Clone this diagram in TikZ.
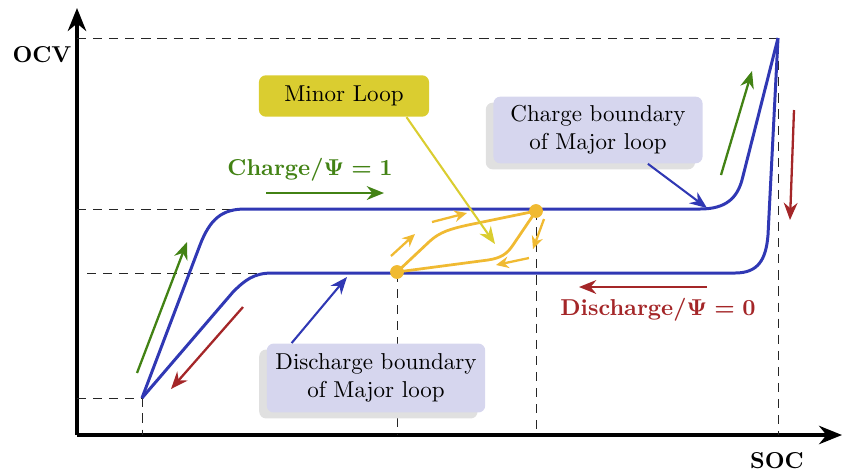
\documentclass[tikz,border=0pt]{standalone}
\usepackage{xcolor}
\usetikzlibrary{arrows.meta,shadows}
\definecolor{majorblue}{RGB}{48, 56, 180}
\definecolor{chargegreen}{RGB}{66, 130, 20}
\definecolor{dischargered}{RGB}{164, 38, 40}
\definecolor{minororange}{RGB}{240, 186, 50}
\definecolor{minorbox}{RGB}{218, 205, 48}
\definecolor{boxlavender}{RGB}{214, 214, 238}

\begin{document}
\begin{tikzpicture}[x=0.435pt, y=-0.435pt,
    hauptkurve/.style={majorblue, line width=1.3pt, line join=round},
    hilfslinie/.style={black!85, thin, dash pattern=on 4pt off 3pt},
    achse/.style={black, line width=1.4pt, -{Stealth[length=10pt, width=8pt]}},
    ladepfeil/.style={chargegreen, line width=1pt, -{Stealth[length=7.5pt, width=6pt]}},
    entladepfeil/.style={dischargered, line width=1pt, -{Stealth[length=7.5pt, width=6pt]}},
    minorpfeil/.style={minororange, line width=1pt, -{Stealth[length=5.5pt, width=5pt]}},
    zeiger/.style={majorblue, line width=0.9pt, -{Stealth[length=7.5pt, width=6pt]}},
    infobox/.style={rounded corners=3pt, fill=boxlavender, align=center, inner sep=3pt,
        drop shadow={shadow xshift=-3.3pt, shadow yshift=-2.6pt, fill=black!12, opacity=1}}]

    % Rahmen des Bildes
    \useasboundingbox (0,0) rectangle (842,473);

    % ==========================================
    % ACHSEN
    % ==========================================
    \coordinate (ursprung) at (77,435);
    \coordinate (yende) at (77,8);
    \coordinate (xende) at (842,435);
    \draw[achse] (ursprung) -- (yende);
    \draw[achse] (ursprung) -- (xende);
    \node[font=\bfseries] (ocv) at (42,55) {OCV};
    \node[font=\bfseries] (soc) at (777,461) {SOC};

    % ==========================================
    % HILFSLINIEN (gestrichelt)
    % ==========================================
    \draw[hilfslinie] (77,38) -- (778,38) -- (778,435);
    \draw[hilfslinie] (77,209) -- (235,209);
    \draw[hilfslinie] (87,273) -- (262,273);
    \draw[hilfslinie] (77,398) -- (142,398) -- (142,435);
    \draw[hilfslinie] (397,273) -- (397,435);
    \draw[hilfslinie] (536,211) -- (536,435);

    % ==========================================
    % MAJOR LOOP (Lade- und Entladekurve)
    % ==========================================
    % Ladekurve
    \draw[hauptkurve] (142,398) -- (200,245) .. controls (210,219) and (222,209) .. (245,209)
        -- (700,209) .. controls (726,209) and (737,198) .. (742,180) -- (778,38);
    % Entladekurve
    \draw[hauptkurve] (778,38) -- (768,235) .. controls (766,260) and (758,273) .. (735,273)
        -- (272,273) .. controls (254,273) and (245,280) .. (233,292) -- (142,398);

    % ==========================================
    % MINOR LOOP
    % ==========================================
    \draw[minororange, line width=1.2pt, line join=round]
        (397,272) -- (430,241) .. controls (440,232) and (450,229) .. (468,225) -- (536,211)
        -- (513,245) .. controls (507,254) and (501,258) .. (488,260) -- cycle;
    \filldraw[minororange] (397,272) circle (2.8pt);
    \filldraw[minororange] (536,211) circle (2.8pt);

    % kleine Pfeile entlang der Minor Loop
    \draw[minorpfeil] (391,256) -- (415,234);
    \draw[minorpfeil] (432,222) -- (467,213);
    \draw[minorpfeil] (544,219) -- (533,249);
    \draw[minorpfeil] (529,258) -- (496,265);

    % ==========================================
    % RICHTUNGSPFEILE
    % ==========================================
    \draw[ladepfeil] (137,373) -- (187,242);
    \draw[ladepfeil] (266,193) -- (384,193);
    \draw[ladepfeil] (721,175) -- (752,71);
    \draw[entladepfeil] (243,307) -- (171,389);
    \draw[entladepfeil] (707,287) -- (579,287);
    \draw[entladepfeil] (794,110) -- (790,220);

    \node[text=chargegreen, font=\bfseries\boldmath] (ladetext) at (310,170) {Charge/$\Psi = 1$};
    \node[text=dischargered, font=\bfseries\boldmath] (entladetext) at (658,310) {Discharge/$\Psi = 0$};

    % ==========================================
    % BESCHRIFTUNGEN MIT ZEIGERN
    % ==========================================
    \node[rounded corners=3pt, fill=minorbox, minimum width=74pt, minimum height=18pt] (minor) at (344,96) {Minor Loop};
    \coordinate (minorspitze) at (495,244);
    \draw[minorbox, line width=0.9pt, -{Stealth[length=7.5pt, width=6pt]}] ([xshift=-10pt]minor.south east) -- (minorspitze);

    \node[infobox, minimum width=91pt, minimum height=29pt] (ladegrenze) at (598,130) {Charge boundary\\of Major loop};
    \coordinate (ladespitze) at (707,208);
    \draw[zeiger] ([xshift=-24pt]ladegrenze.south east) -- (ladespitze);

    \node[infobox, minimum width=95pt, minimum height=30pt] (entladegrenze) at (376,378) {Discharge boundary\\of Major loop};
    \coordinate (entladespitze) at (347,277);
    \draw[zeiger] ([xshift=11pt]entladegrenze.north west) -- (entladespitze);

\end{tikzpicture}
\end{document}
